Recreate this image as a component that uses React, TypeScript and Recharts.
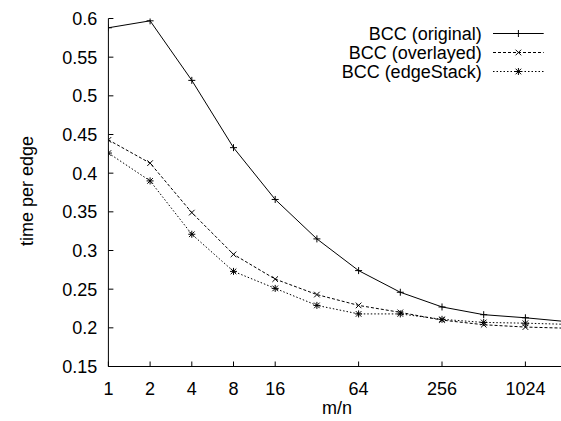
import React from 'react';
import { LineChart, Line, XAxis, YAxis, Legend } from 'recharts';

const mOverN = [1, 2, 4, 8, 16, 32, 64, 128, 256, 512, 1024, 2048];
const bccOriginal = [0.588, 0.597, 0.520, 0.433, 0.366, 0.315, 0.274, 0.246, 0.227, 0.217, 0.213, 0.208];
const bccOverlayed = [0.443, 0.413, 0.349, 0.295, 0.263, 0.243, 0.229, 0.220, 0.210, 0.204, 0.201, 0.1995];
const bccEdgeStack = [0.426, 0.390, 0.321, 0.273, 0.251, 0.229, 0.218, 0.218, 0.211, 0.207, 0.206, 0.2045];

const xTicks = [1, 2, 4, 8, 16, 64, 256, 1024];
const yTicks = [0.15, 0.2, 0.25, 0.3, 0.35, 0.4, 0.45, 0.5, 0.55, 0.6];

const seriesNames = ['BCC (original)', 'BCC (overlayed)', 'BCC (edgeStack)'];

const data = mOverN.map((x, i) => ({
  x,
  original: bccOriginal[i],
  overlayed: bccOverlayed[i],
  edgeStack: bccEdgeStack[i],
}));

const FONT = '"Liberation Sans", Arial, Helvetica, sans-serif';
const R = 3.5;

const plusPath = (cx: number, cy: number) =>
  `M${cx - R},${cy}L${cx + R},${cy}M${cx},${cy - R}L${cx},${cy + R}`;
const crossPath = (cx: number, cy: number) =>
  `M${cx - R * 0.8},${cy - R * 0.8}L${cx + R * 0.8},${cy + R * 0.8}M${cx - R * 0.8},${cy + R * 0.8}L${cx + R * 0.8},${cy - R * 0.8}`;
const starPath = (cx: number, cy: number) => plusPath(cx, cy) + crossPath(cx, cy);

const markerFns = [plusPath, crossPath, starPath];
const dashes = ['', '3 2', '1.5 2'];
const keys = ['original', 'overlayed', 'edgeStack'];

const makeDot = (fn: (cx: number, cy: number) => string) => (props: any) => {
  const { cx, cy, index } = props;
  if (cx == null || cy == null) return <g key={`d-${index}`} />;
  return <path key={`d-${index}`} d={fn(cx, cy)} stroke="#000" strokeWidth={1} fill="none" />;
};

const renderLegend = () => {
  const rowH = 19;
  return (
    <svg width={220} height={62} style={{ display: 'block' }}>
      {seriesNames.map((name, i) => {
        const cy = 10.5 + i * rowH;
        return (
          <g key={name}>
            <text x={141.7} y={cy} dy="0.35em" textAnchor="end" fontFamily={FONT} fontSize={18} fill="#000">
              {name}
            </text>
            <line x1={153} x2={203.7} y1={cy} y2={cy} stroke="#000" strokeWidth={1} strokeDasharray={dashes[i] || undefined} />
            <path d={markerFns[i](178.4, cy)} stroke="#000" strokeWidth={1} fill="none" />
          </g>
        );
      })}
    </svg>
  );
};

const YLabel = (props: any) => {
  const vb = props.viewBox || { x: 0, y: 18.5, width: 108.4, height: 348 };
  const cx = vb.x + 33;
  const cy = vb.y + vb.height / 2 - 1.5;
  return (
    <text transform={`translate(${cx},${cy}) rotate(-90)`} textAnchor="middle" fontFamily={FONT} fontSize={18} fill="#000">
      time per edge
    </text>
  );
};

const XLabel = (props: any) => {
  const vb = props.viewBox || { x: 108.4, y: 366.5, width: 458.7, height: 54.5 };
  return (
    <text x={vb.x + vb.width / 2 - 0.7} y={vb.y + 47.5} textAnchor="middle" fontFamily={FONT} fontSize={18} fill="#000">
      m/n
    </text>
  );
};

export default function App() {
  const tickStyle = { fontFamily: FONT, fontSize: 18, fill: '#000' };
  return (
    <div style={{ position: 'absolute', left: 0, top: 0, width: 561, height: 421, overflow: 'hidden', background: '#fff' }}>
      <LineChart
        width={620}
        height={421}
        data={data}
        margin={{ top: 18.5, right: 52.9, bottom: 0, left: 0 }}
      >
        <XAxis
          dataKey="x"
          type="number"
          scale="log"
          domain={[1, 2048]}
          allowDataOverflow
          ticks={xTicks}
          interval={0}
          height={54.5}
          tickSize={-5}
          tickMargin={21}
          tick={tickStyle}
          axisLine={{ stroke: '#000', strokeWidth: 1 }}
          tickLine={{ stroke: '#000', strokeWidth: 1 }}
          label={<XLabel />}
        />
        <XAxis
          xAxisId="top"
          orientation="top"
          dataKey="x"
          type="number"
          scale="log"
          domain={[1, 2048]}
          allowDataOverflow
          ticks={xTicks}
          interval={0}
          height={0}
          tickSize={-5}
          tickFormatter={() => ''}
          axisLine={{ stroke: '#000', strokeWidth: 1 }}
          tickLine={{ stroke: '#000', strokeWidth: 1 }}
        />
        <YAxis
          type="number"
          domain={[0.15, 0.6]}
          allowDataOverflow
          ticks={yTicks}
          interval={0}
          width={108.4}
          tickSize={-5}
          tickMargin={16}
          tick={tickStyle}
          tickFormatter={(v: number) => String(Number(v.toFixed(2)))}
          axisLine={{ stroke: '#000', strokeWidth: 1 }}
          tickLine={{ stroke: '#000', strokeWidth: 1 }}
          label={<YLabel />}
        />
        <Legend
          layout="horizontal"
          verticalAlign="middle"
          align="center"
          content={renderLegend}
          wrapperStyle={{ position: 'absolute', left: 340, top: 23, width: 220, height: 62 }}
        />
        {keys.map((k, i) => (
          <Line
            key={k}
            dataKey={k}
            name={seriesNames[i]}
            type="linear"
            stroke="#000"
            strokeWidth={1}
            strokeDasharray={dashes[i] || undefined}
            dot={makeDot(markerFns[i])}
            activeDot={false}
            isAnimationActive={false}
          />
        ))}
      </LineChart>
    </div>
  );
}
